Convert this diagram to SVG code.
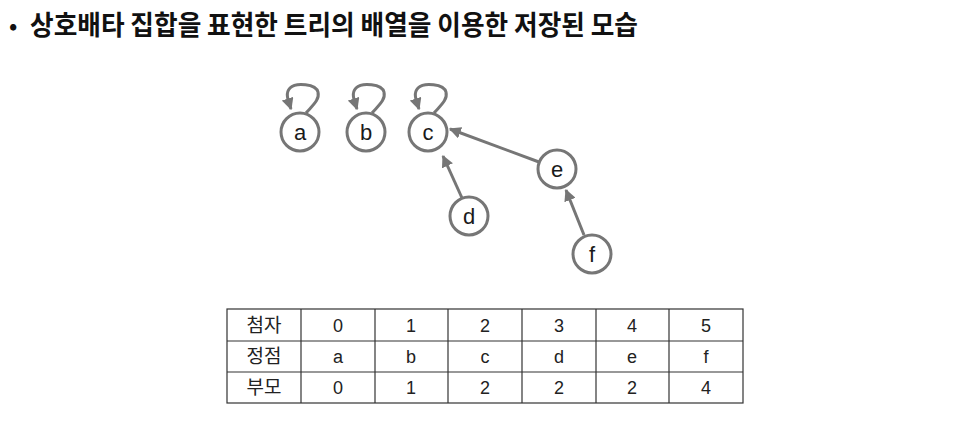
<svg xmlns="http://www.w3.org/2000/svg" width="968" height="425" viewBox="0 0 968 425">
<style>
.node circle{fill:#fff;stroke:#767676;stroke-width:3}
.node text{font-family:"Liberation Sans",Arial,sans-serif;font-size:22px;fill:#1a1a1a;text-anchor:middle}
.edge{fill:none;stroke:#767676;stroke-width:3;marker-end:url(#ah)}
.tl{stroke:#333;stroke-width:1.2;fill:none}
.tt{font-family:"Liberation Sans","Noto Sans CJK KR",sans-serif;font-size:18px;fill:#222;text-anchor:middle}
.tk{font-family:"Noto Sans CJK KR",sans-serif;font-size:19px;fill:#222;text-anchor:middle}
</style>
<defs>
<marker id="ah" viewBox="0 0 10 10" refX="9" refY="5" markerWidth="4" markerHeight="4" orient="auto" markerUnits="strokeWidth">
<path d="M0,0 L10,5 L0,10 z" fill="#767676"/>
</marker>
</defs>
<rect width="968" height="425" fill="#fff"/>
<text x="9" y="34" font-family="'Noto Sans CJK KR',sans-serif" font-size="22" font-weight="bold" fill="#111">•</text>
<text x="30" y="35" font-family="'Noto Sans CJK KR',sans-serif" font-size="27" font-weight="bold" fill="#111" textLength="608" lengthAdjust="spacingAndGlyphs">상호배타 집합을 표현한 트리의 배열을 이용한 저장된 모습</text>
<g id="connectors">
<path class="edge" d="M306,113 C312,106 320,100 318,92 C316,84 296,82 290,88 C285,93 288,100 291,109"/>
<path class="edge" d="M372,113 C378,106 386,100 384,92 C382,84 362,82 356,88 C351,93 354,100 357,109"/>
<path class="edge" d="M434,113 C440,106 448,100 446,92 C444,84 424,82 418,88 C413,93 416,100 419,109"/>
<line class="edge" x1="539" y1="162" x2="450" y2="129"/>
<line class="edge" x1="462" y1="198" x2="443" y2="156"/>
<line class="edge" x1="584" y1="235" x2="566" y2="190"/>
</g>
<g id="node-a" class="node"><circle cx="300" cy="132" r="19"/><text x="300" y="140">a</text></g>
<g id="node-b" class="node"><circle cx="366" cy="132" r="19"/><text x="366" y="140">b</text></g>
<g id="node-c" class="node"><circle cx="428" cy="132" r="19"/><text x="428" y="140">c</text></g>
<g id="node-e" class="node"><circle cx="557" cy="169" r="19"/><text x="557" y="177">e</text></g>
<g id="node-d" class="node"><circle cx="469" cy="216" r="19"/><text x="469" y="224">d</text></g>
<g id="node-f" class="node"><circle cx="592" cy="254" r="19"/><text x="592" y="262">f</text></g>
<g id="table">
<rect class="tl" x="227" y="309" width="516" height="94"/>
<line class="tl" x1="227" y1="341" x2="743" y2="341"/>
<line class="tl" x1="227" y1="372" x2="743" y2="372"/>
<line class="tl" x1="301" y1="309" x2="301" y2="403"/>
<line class="tl" x1="375" y1="309" x2="375" y2="403"/>
<line class="tl" x1="448" y1="309" x2="448" y2="403"/>
<line class="tl" x1="522" y1="309" x2="522" y2="403"/>
<line class="tl" x1="596" y1="309" x2="596" y2="403"/>
<line class="tl" x1="669" y1="309" x2="669" y2="403"/>
<text class="tk" x="264" y="332">첨자</text>
<text class="tk" x="264" y="363">정점</text>
<text class="tk" x="264" y="394">부모</text>
<text class="tt" x="338" y="332">0</text><text class="tt" x="411" y="332">1</text><text class="tt" x="485" y="332">2</text><text class="tt" x="559" y="332">3</text><text class="tt" x="632" y="332">4</text><text class="tt" x="706" y="332">5</text>
<text class="tt" x="338" y="363">a</text><text class="tt" x="411" y="363">b</text><text class="tt" x="485" y="363">c</text><text class="tt" x="559" y="363">d</text><text class="tt" x="632" y="363">e</text><text class="tt" x="706" y="363">f</text>
<text class="tt" x="338" y="394">0</text><text class="tt" x="411" y="394">1</text><text class="tt" x="485" y="394">2</text><text class="tt" x="559" y="394">2</text><text class="tt" x="632" y="394">2</text><text class="tt" x="706" y="394">4</text>
</g>
</svg>
